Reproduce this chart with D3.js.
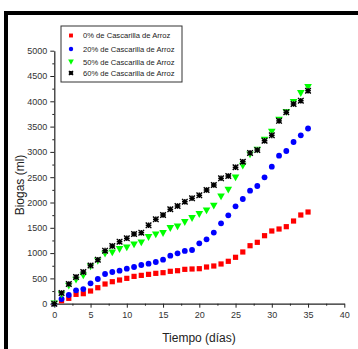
<!DOCTYPE html>
<html><head><meta charset="utf-8">
<script src="https://cdn.jsdelivr.net/npm/d3@7"></script>
<style>body{margin:0;background:#fff}svg{display:block}text{font-family:"Liberation Sans",Arial,sans-serif}</style>
</head><body>
<svg id="c" width="358" height="349"></svg>
<script>
const days = d3.range(0, 36);
const s0 = [0,59,106,185,198,251,316,389,435,468,501,540,560,580,600,613,640,652,679,686,692,725,745,785,838,917,1022,1146,1213,1344,1437,1476,1522,1634,1753,1812];
const s20 = [0,93,172,264,290,402,488,587,626,652,692,725,765,791,824,870,949,996,1042,1061,1193,1273,1405,1589,1747,1925,2069,2233,2326,2498,2708,2925,3018,3196,3328,3462];
const s50 = [0,180,350,468,553,730,843,982,1008,1075,1107,1166,1206,1312,1364,1391,1490,1522,1608,1688,1767,1838,1931,2115,2247,2490,2721,2945,3038,3235,3393,3630,3783,3980,4158,4277];
const s60 = [0,212,390,527,626,755,870,1048,1140,1225,1292,1377,1403,1549,1668,1753,1866,1931,2016,2083,2142,2247,2346,2478,2524,2696,2806,2980,3038,3221,3327,3614,3783,3947,4012,4209];
const seriesNames = ["0% de Cascarilla de Arroz","20% de Cascarilla de Arroz","50% de Cascarilla de Arroz","60% de Cascarilla de Arroz"];
const seriesColors = ["#ff0000","#0000ff","#00ff00","#000000"];
const xTicks = [0,5,10,15,20,25,30,35,40];
const yTicks = [0,500,1000,1500,2000,2500,3000,3500,4000,4500,5000];
const xTitle = "Tiempo (días)";
const yTitle = "Biogas (ml)";

const svg = d3.select("#c");
// frame
svg.append("rect").attr("x",4).attr("y",11).attr("width",354).attr("height",4).attr("fill","#000");
svg.append("rect").attr("x",4).attr("y",11).attr("width",4).attr("height",338).attr("fill","#000");

const x = d3.scaleLinear().domain([0,40]).range([54.3,344.3]);
const y = d3.scaleLinear().domain([0,5000]).range([303.7,50.7]);
const fmt = d3.format("d");

const gx = svg.append("g").attr("transform","translate(0,303.7)");
gx.call(d3.axisBottom(x).tickValues(d3.range(2.5,40,5)).tickFormat("").tickSize(2).tickSizeOuter(0));
gx.call(g=>g.select(".domain").remove());
const gx2 = svg.append("g").attr("transform","translate(0,303.7)");
gx2.call(d3.axisBottom(x).tickValues(xTicks).tickFormat(fmt).tickSize(4).tickPadding(4).tickSizeOuter(0));

const gy = svg.append("g").attr("transform","translate(54.3,0)");
gy.call(d3.axisLeft(y).tickValues(d3.range(250,5000,500)).tickFormat("").tickSize(2).tickSizeOuter(0));
gy.call(g=>g.select(".domain").remove());
const gy2 = svg.append("g").attr("transform","translate(54.3,0)");
gy2.call(d3.axisLeft(y).tickValues(yTicks).tickFormat(fmt).tickSize(4).tickPadding(3).tickSizeOuter(0));

svg.selectAll(".tick line").attr("stroke","#222").attr("stroke-width",1);
svg.selectAll(".domain").attr("stroke","#222").attr("stroke-width",1.2);
svg.selectAll(".tick text").attr("font-size",9).attr("fill","#333").style("font-family","'Liberation Sans',Arial,sans-serif");

svg.append("text").attr("x",199).attr("y",342).attr("text-anchor","middle").attr("font-size",12).attr("fill","#222").text(xTitle);
svg.append("text").attr("transform","translate(24,185) rotate(-90)").attr("text-anchor","middle").attr("font-size",12).attr("fill","#222").text(yTitle);

function drawMarker(g, i, cx, cy, s) {
  if (i===0) g.append("rect").attr("x",cx-2.6*s).attr("y",cy-2.6*s).attr("width",5.2*s).attr("height",5.2*s).attr("fill",seriesColors[0]);
  else if (i===1) g.append("circle").attr("cx",cx).attr("cy",cy).attr("r",2.9*s).attr("fill",seriesColors[1]);
  else if (i===2) g.append("path").attr("d",`M${cx-3.8*s},${cy-3.3*s}L${cx+3.8*s},${cy-3.3*s}L${cx},${cy+3.6*s}Z`).attr("fill",seriesColors[2]);
  else {
    const r=2.8*s;
    g.append("rect").attr("x",cx-r).attr("y",cy-r).attr("width",2*r).attr("height",2*r).attr("fill","#bbb").attr("opacity",0.6);
    g.append("path").attr("d",`M${cx-r},${cy-r}L${cx+r},${cy+r}M${cx-r},${cy+r}L${cx+r},${cy-r}M${cx},${cy-r}L${cx},${cy+r}M${cx-r},${cy}L${cx+r},${cy}`).attr("stroke","#000").attr("stroke-width",1.3);
  }
}
const allSeries = [s0,s20,s50,s60];
allSeries.forEach((arr,i)=>{
  const g = svg.append("g");
  arr.forEach((v,j)=>drawMarker(g,i,x(days[j]),y(v),1));
});

// legend
const lg = svg.append("g");
lg.append("rect").attr("x",61).attr("y",26).attr("width",121).attr("height",56).attr("fill","#fff").attr("stroke","#333").attr("stroke-width",1);
const ly = [35.5,49,62,73];
seriesNames.forEach((n,i)=>{
  const gi = lg.append("g");
  drawMarker(gi,i,71,ly[i],0.75);
  lg.append("text").attr("x",83).attr("y",ly[i]+2.8).attr("font-size",7.6).attr("fill","#222").text(n);
});
</script>
</body></html>
